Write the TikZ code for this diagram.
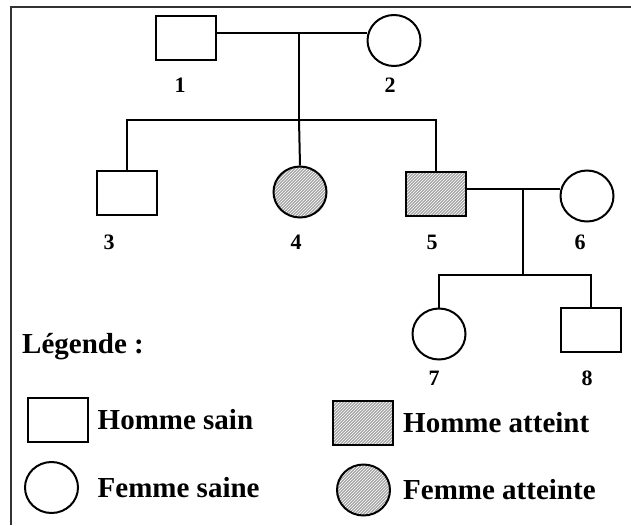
\documentclass[tikz,border=0pt]{standalone}
\usepackage{fontspec}
\setmainfont{Liberation Serif}
\usetikzlibrary{positioning, shapes.geometric, patterns}
\tikzset{
    person/.style={draw, line width=2pt, inner sep=0pt},
    male/.style={person, rectangle, minimum width=60pt, minimum height=44pt},
    female/.style={person, ellipse, minimum width=53pt, minimum height=51pt},
    ill/.style={preaction={fill=gray!70}, pattern=north east lines, pattern color=white},
    num/.style={font=\bfseries\fontsize{22}{22}\selectfont, inner sep=0pt},
    legtext/.style={font=\bfseries\fontsize{29}{29}\selectfont, inner sep=0pt},
    link/.style={line width=2pt},
}

\begin{document}
\begin{tikzpicture}[x=1pt, y=-1pt]
    \useasboundingbox (0,0) rectangle (631,525);
    \draw[line width=1.6pt, black!80] (631,7) -- (11,7) -- (11,525);

    \node[male] (p1) at (186,38) {};
    \node[female] (p2) at (394,40.5) {};
    \node[num] (n1) at (180,85) {1};
    \node[num] (n2) at (390,85) {2};

    \coordinate (m1) at (299,33);
    \coordinate (b1) at (299,120);
    \draw[link] (p1.east |- m1) -- (p2.west |- m1);
    \draw[link] (m1) -- (b1);

    \node[male] (p3) at (127,193) {};
    \node[female, ill] (p4) at (300,192) {};
    \node[male, ill] (p5) at (435.5,193.5) {};
    \node[female] (p6) at (587,196) {};
    \node[num] (n3) at (109,242) {3};
    \node[num] (n4) at (296,242) {4};
    \node[num] (n5) at (432,242) {5};
    \node[num] (n6) at (580,242) {6};

    \draw[link] (p3.north) |- (b1) -| (p5.north);
    \draw[link] (b1) -- (p4.north);

    \coordinate (m2) at (523,189);
    \coordinate (b2) at (523,275);
    \draw[link] (p5.east |- m2) -- (p6.west |- m2);
    \draw[link] (m2) -- (b2);

    \node[female] (p7) at (439,334) {};
    \node[male] (p8) at (591,330) {};
    \node[num] (n7) at (434,378) {7};
    \node[num] (n8) at (587,378) {8};

    \draw[link] (p7.north) |- (b2) -| (p8.north);

    \node[legtext, anchor=base west] (lg) at (22,353) {Légende :};

    \node[male] (l1) at (57.5,420) {};
    \node[female] (l2) at (51.5,487.5) {};
    \node[male, ill] (l3) at (363,423) {};
    \node[female, ill] (l4) at (363.5,490) {};

    \node[legtext, right=9pt of l1] (t1) {Homme sain};
    \node[legtext, anchor=west] (t2) at (t1.west |- l2) {Femme saine};
    \node[legtext, right=9pt of l3] (t3) {Homme atteint};
    \node[legtext, anchor=west] (t4) at (t3.west |- l4) {Femme atteinte};
\end{tikzpicture}
\end{document}
